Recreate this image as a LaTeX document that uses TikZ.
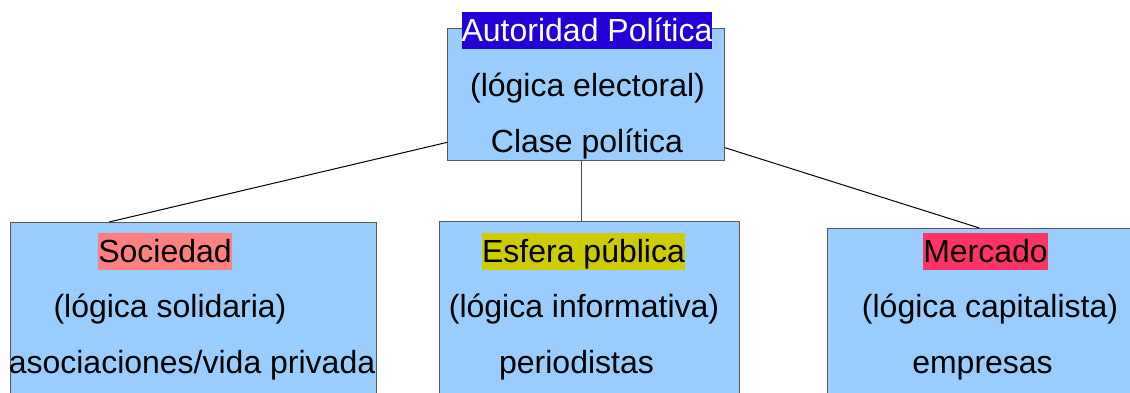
\documentclass[tikz,border=0pt]{standalone}
\usepackage{fontspec}
\setmainfont{Liberation Sans}
\usetikzlibrary{calc}
\definecolor{skyfill}{HTML}{99CCFF}
\definecolor{polblue}{HTML}{2300D8}
\definecolor{socred}{HTML}{FF8080}
\definecolor{esfyellow}{HTML}{CCCC00}
\definecolor{merpink}{HTML}{FF3366}

\begin{document}
\begin{tikzpicture}[x=1pt,y=-1pt,
    box/.style={draw=black!65,fill=skyfill,line width=1pt,inner sep=0pt,anchor=north west},
    txt/.style={anchor=base,inner sep=0pt,font=\fontsize{32}{38}\selectfont},
    hilite/.style={txt,anchor=north,text height=29.4pt,text depth=7.6pt}]
   \clip (0,0) rectangle (1130,392);
   \node[box,minimum width=277pt,minimum height=132pt] (autoridad) at (447,28) {};
   \node[box,minimum width=366pt,minimum height=190pt] (sociedad) at (10,222) {};
   \node[box,minimum width=300pt,minimum height=190pt] (esfera) at (439,221) {};
   \node[box,minimum width=310pt,minimum height=190pt] (mercado) at (827,228) {};
   \draw[line width=1pt] ($(autoridad.north west)!0.86!(autoridad.south west)$) -- ($(sociedad.north west)!0.27!(sociedad.north east)$);
   \draw[line width=1pt] ($(autoridad.north east)!0.9!(autoridad.south east)$) -- ($(mercado.north west)!0.49!(mercado.north east)$);
   \draw[line width=1pt,black!70] ([xshift=-4.5pt]autoridad.south) -- ([xshift=-4.5pt]autoridad.south |- esfera.north);
   \node[hilite,fill=polblue,text=white] (autT) at (587,12) {Autoridad Política};
   \node[txt] (autL) at (587.5,96) {(lógica electoral)};
   \node[txt] (autC) at (587,152) {Clase política};
   \node[hilite,fill=socred] (socT) at (165,233) {Sociedad};
   \node[txt] (socL) at (170,317) {(lógica solidaria)};
   \node[txt] (socC) at (192,373) {asociaciones/vida privada};
   \node[hilite,fill=esfyellow] (esfT) at (583.5,233) {Esfera pública};
   \node[txt] (esfL) at (584,317) {(lógica informativa)};
   \node[txt] (esfC) at (576.5,373) {periodistas};
   \node[hilite,fill=merpink] (merT) at (985.5,233) {Mercado};
   \node[txt] (merL) at (990,317) {(lógica capitalista)};
   \node[txt] (merC) at (982.5,373) {empresas};
\end{tikzpicture}
\end{document}
